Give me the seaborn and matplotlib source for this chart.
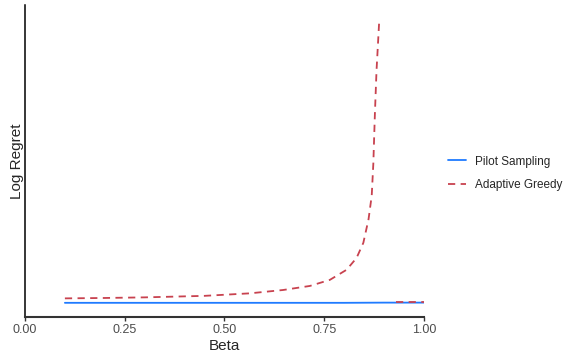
import numpy as np
import pandas as pd
import matplotlib
matplotlib.use("Agg")
import matplotlib.pyplot as plt
from matplotlib.lines import Line2D
import seaborn as sns

# Log regret as a function of beta for the two policies
pilot_beta = [0.10, 0.20, 0.30, 0.40, 0.50, 0.60, 0.70, 0.80, 0.90, 1.00]
pilot_regret = [1.00, 1.00, 1.00, 1.00, 1.00, 1.00, 1.00, 1.00, 1.01, 1.01]

greedy_beta = [0.10, 0.20, 0.30, 0.45, 0.564, 0.647, 0.714, 0.764, 0.806,
               0.831, 0.848, 0.861, 0.869, 0.873, 0.877, 0.881, 0.888]
greedy_regret = [1.22, 1.24, 1.27, 1.345, 1.47, 1.635, 1.835, 2.135, 2.635,
                 3.22, 3.97, 5.135, 6.30, 7.885, 10.385, 12.485, 15.035]
# After the blow-up the greedy policy comes back to the pilot level
greedy_tail_beta = [0.93, 0.96, 1.00]
greedy_tail_regret = [1.03, 1.03, 1.03]

methods = ["Pilot Sampling", "Adaptive Greedy"]
colors = {"Pilot Sampling": "#1f7bff", "Adaptive Greedy": "#c8424f"}

df = pd.concat([
    pd.DataFrame({"Beta": pilot_beta, "Log Regret": pilot_regret,
                  "method": methods[0], "segment": 0}),
    pd.DataFrame({"Beta": greedy_beta, "Log Regret": greedy_regret,
                  "method": methods[1], "segment": 1}),
    pd.DataFrame({"Beta": greedy_tail_beta, "Log Regret": greedy_tail_regret,
                  "method": methods[1], "segment": 2}),
], ignore_index=True)

sns.set_style("white")
plt.rcParams["font.family"] = ["Liberation Sans", "DejaVu Sans"]

fig = plt.figure(figsize=(5.63, 3.54), dpi=100)
ax = fig.add_axes([0.0444, 0.1045, 0.7087, 0.8815])

sns.lineplot(data=df, x="Beta", y="Log Regret", hue="method", style="method",
             units="segment", estimator=None, hue_order=methods,
             style_order=methods, palette=colors,
             dashes={methods[0]: "", methods[1]: (4, 3)},
             linewidth=1.3, ax=ax, legend=False)

ax.set_xlim(0, 1)
ax.set_xticks([0, 0.25, 0.5, 0.75, 1.0])
ax.set_xticklabels(["0.00", "0.25", "0.50", "0.75", "1.00"])
ax.set_yticks([])
ax.tick_params(axis="x", length=3, width=1, color="#333333",
               labelsize=9, labelcolor="#4d4d4d", pad=2, bottom=True)
ax.set_xlabel("Beta", fontsize=11, labelpad=2)
ax.set_ylabel("Log Regret", fontsize=11, labelpad=1)

for side in ["top", "right"]:
    ax.spines[side].set_visible(False)
ax.spines["left"].set_color("black")
ax.spines["left"].set_linewidth(1.1)
ax.spines["bottom"].set_color("#333333")
ax.spines["bottom"].set_linewidth(1.5)

handles = [Line2D([0], [0], color=colors[methods[0]], lw=1.3),
           Line2D([0], [0], color=colors[methods[1]], lw=1.3, dashes=(4, 3))]
fig.legend(handles, methods, loc="center left", bbox_to_anchor=(0.776, 0.51),
           frameon=False, fontsize=8.5, handlelength=1.6, labelspacing=1.0,
           handletextpad=0.7)

fig.savefig("out.png", dpi=100, facecolor="white")
